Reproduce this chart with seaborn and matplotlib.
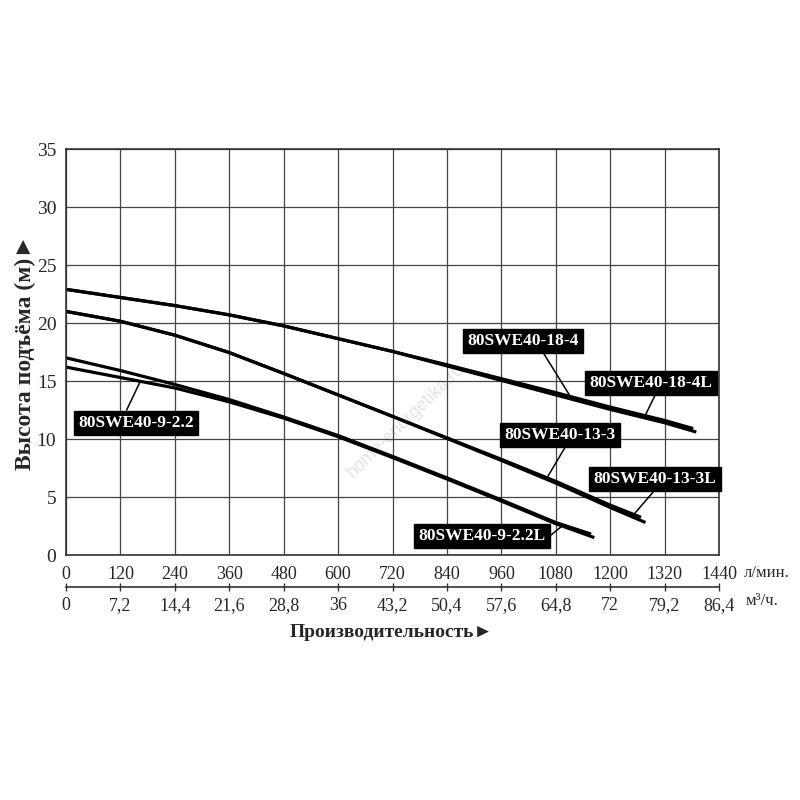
import numpy as np
import pandas as pd
import matplotlib
matplotlib.use("Agg")
import matplotlib.pyplot as plt
import seaborn as sns

# flow in l/min, head in m
q_18_4 = [0, 120, 240, 360, 480, 600, 720, 840, 960, 1080, 1200, 1320, 1383]
h_18_4 = [22.9, 22.2, 21.5, 20.7, 19.75, 18.65, 17.55, 16.4, 15.2, 14.0, 12.75, 11.6, 10.9]
q_18_4L = [0, 120, 240, 360, 480, 600, 720, 840, 960, 1080, 1200, 1320, 1390]
h_18_4L = [22.9, 22.2, 21.5, 20.7, 19.75, 18.65, 17.55, 16.3, 15.05, 13.8, 12.55, 11.4, 10.6]

q_13_3 = [0, 120, 240, 360, 480, 600, 720, 840, 960, 1080, 1200, 1268]
h_13_3 = [21.0, 20.15, 18.95, 17.45, 15.65, 13.8, 11.95, 10.1, 8.25, 6.35, 4.3, 3.25]
q_13_3L = [0, 120, 240, 360, 480, 600, 720, 840, 960, 1080, 1200, 1278]
h_13_3L = [21.0, 20.15, 18.95, 17.45, 15.65, 13.8, 11.95, 10.05, 8.15, 6.2, 4.1, 2.8]

q_9_22 = [0, 120, 240, 360, 480, 600, 720, 840, 960, 1080, 1158]
h_9_22 = [17.0, 15.9, 14.7, 13.4, 11.9, 10.3, 8.5, 6.65, 4.75, 2.8, 1.8]
q_9_22L = [0, 120, 240, 360, 480, 600, 720, 840, 960, 1080, 1165]
h_9_22L = [16.2, 15.3, 14.4, 13.2, 11.8, 10.2, 8.4, 6.55, 4.65, 2.7, 1.5]

models = ["80SWE40-18-4", "80SWE40-18-4L", "80SWE40-13-3",
          "80SWE40-13-3L", "80SWE40-9-2.2", "80SWE40-9-2.2L"]
flows = [q_18_4, q_18_4L, q_13_3, q_13_3L, q_9_22, q_9_22L]
heads = [h_18_4, h_18_4L, h_13_3, h_13_3L, h_9_22, h_9_22L]

lpm_ticks = list(range(0, 1441, 120))
m3h_ticks = [0, 7.2, 14.4, 21.6, 28.8, 36, 43.2, 50.4, 57.6, 64.8, 72, 79.2, 86.4]
head_ticks = [0, 5, 10, 15, 20, 25, 30, 35]

rows = []
for name, q, h in zip(models, flows, heads):
    for a, b in zip(q, h):
        rows.append({"model": name, "flow": a, "head": b})
df = pd.DataFrame(rows)

sns.set_style("white")
plt.rcParams["font.family"] = ["Liberation Serif", "DejaVu Sans"]

fig = plt.figure(figsize=(8, 8), dpi=100)
ax = fig.add_axes([0.0825, 0.30625, 0.81625, 0.5075])

for name in models:
    sns.lineplot(data=df[df.model == name], x="flow", y="head", color="black",
                 lw=2.3, sort=False, ax=ax, legend=False, solid_capstyle="butt")

ax.set_xlim(0, 1440)
ax.set_ylim(0, 35)
ax.set_xticks(lpm_ticks)
ax.set_yticks(head_ticks)
ax.grid(True, color="#444444", lw=0.9)
ax.set_axisbelow(True)
for s in ax.spines.values():
    s.set_color("#333333")
    s.set_linewidth(1.2)
ax.tick_params(axis="x", length=0, pad=8, labelsize=13)
ax.tick_params(axis="y", length=0, pad=7, labelsize=14)
ax.set_xlabel("")
ax.set_ylabel("")

# second flow scale in m3/h
sec = ax.secondary_xaxis(-0.079, functions=(lambda x: x * 0.06, lambda x: x / 0.06))
sec.set_xticks(m3h_ticks)
sec.set_xticklabels([("%g" % v).replace(".", ",") for v in m3h_ticks])
sec.tick_params(direction="inout", length=6, width=1, pad=4, labelsize=13, color="#333333")
sec.spines["bottom"].set_color("#333333")
sec.spines["bottom"].set_linewidth(1.2)

ax.text(1.038, -0.044, "л/мин.", transform=ax.transAxes, ha="left", va="center", fontsize=12)
ax.text(1.04, -0.113, "м³/ч.", transform=ax.transAxes, ha="left", va="center", fontsize=12)
ax.text(0.499, -0.192, "Производительность►", transform=ax.transAxes, ha="center",
        va="center", fontsize=14, fontweight="bold")
ax.text(-0.062, 0.5, "Высота подъёма (м)►", transform=ax.transAxes, ha="center",
        va="center", rotation=90, fontsize=17, fontweight="bold")

# faint watermark
ax.text(0.52, 0.33, "home-energetika.ru", transform=ax.transAxes, rotation=44,
        ha="center", va="center", fontsize=13, color="#e4e4e4", family="Liberation Sans", zorder=0)

# label boxes with leader lines: (text position, tip on curve, leader start in box)
callouts = [
    ((1008, 18.45), (1110, 13.8), (0.66, 0.0)),
    ((1290, 14.83), (1277, 12.0), (0.55, 0.0)),
    ((1089, 10.34), (1063, 6.8), (0.57, 0.0)),
    ((1299, 6.55), (1250, 3.4), (0.52, 0.0)),
    ((154, 11.38), (163, 14.9), (0.4, 1.0)),
    ((917, 1.64), (1094, 2.5), (1.0, 0.28)),
]
for name, (txt, tip, rp) in zip(models, callouts):
    ax.annotate(name, xy=tip, xytext=txt, textcoords="data", ha="center", va="center",
                color="white", fontsize=12.5, fontweight="bold", zorder=5,
                bbox=dict(boxstyle="square,pad=0.25", fc="black", ec="black"),
                arrowprops=dict(arrowstyle="-", color="black", lw=1.1, relpos=rp,
                                shrinkA=0, shrinkB=0))

fig.savefig("out.png", dpi=100)
